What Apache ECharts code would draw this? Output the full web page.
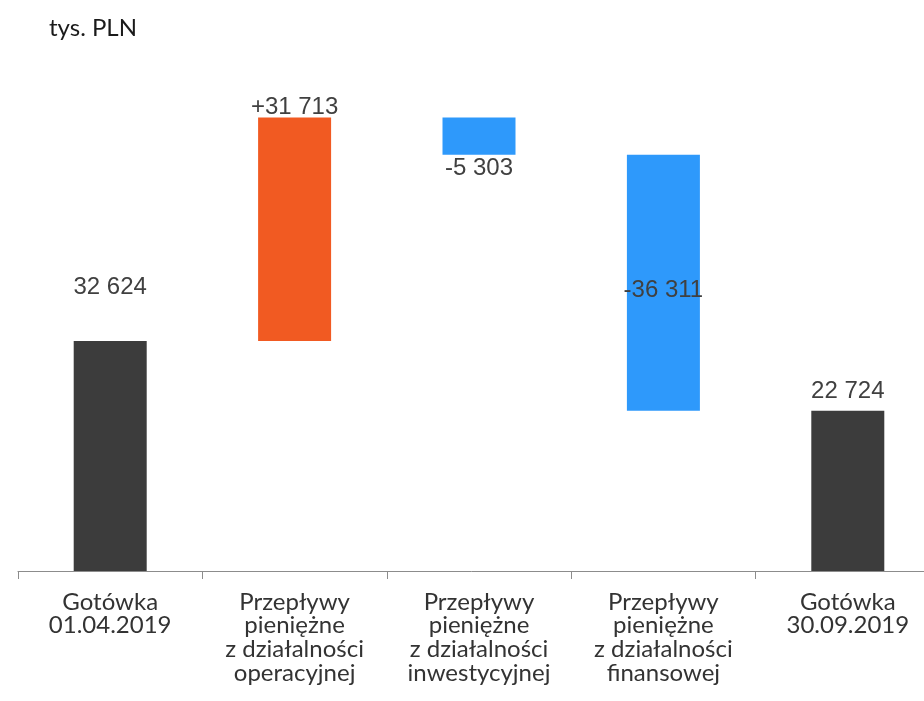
<!DOCTYPE html>
<html>
<head>
<meta charset="utf-8">
<script src="https://cdn.jsdelivr.net/npm/echarts@6/dist/echarts.min.js"></script>
<style>
  html, body { margin: 0; padding: 0; background: #fff; }
  #chart { width: 924px; height: 701px; }
</style>
</head>
<body>
<div id="chart"></div>
<script>
  'use strict';

  /*dane wykresu*/
  var categories = [
    'Gotówka\n01.04.2019',
    'Przepływy\npieniężne\nz działalności\noperacyjnej',
    'Przepływy\npieniężne\nz działalności\ninwestycyjnej',
    'Przepływy\npieniężne\nz działalności\nfinansowej',
    'Gotówka\n30.09.2019'
  ];
  var changes = [32624, 31713, -5303, -36311, 22724];
  var isTotal = [true, false, false, false, true];
  var labels = ['32 624', '+31 713', '-5 303', '-36 311', '22 724'];

  var colorTotal = '#3c3c3c';
  var colorUp = '#f15a22';
  var colorDown = '#2e99fb';

  /*podstawy i wysokości słupków*/
  var bases = [], heights = [], running = 0;
  changes.forEach(function (v, i){
    if(isTotal[i]){
      bases.push(0);
      heights.push(v);
      running = v;
    }else if(v >= 0){
      bases.push(running);
      heights.push(v);
      running += v;
    }else{
      running += v;
      bases.push(running);
      heights.push(-v);
    }
  });

  var labelCfg = [
    {position: 'top', distance: 42},
    {position: 'top', distance: -2},
    {position: 'bottom', distance: 2},
    {position: 'inside', offset: [0, 8]},
    {position: 'top', distance: 7}
  ];

  var visible = heights.map(function (h, i){
    var c = isTotal[i] ? colorTotal : (changes[i] >= 0 ? colorUp : colorDown);
    var lc = labelCfg[i];
    return {
      value: h,
      itemStyle: {color: c},
      label: {
        show: true,
        position: lc.position,
        distance: lc.distance === undefined ? 5 : lc.distance,
        offset: lc.offset || [0, 0],
        formatter: labels[i]
      }
    };
  });

  var myChart = echarts.init(document.getElementById('chart'), null, {renderer: 'canvas'});
  var option = {
    animation: false,
    backgroundColor: '#ffffff',
    title: {
      text: 'tys. PLN',
      left: 44,
      top: 11,
      textStyle: {
        fontFamily: 'Lato',
        fontSize: 24,
        fontWeight: 'normal',
        color: '#1a1a1a'
      }
    },
    grid: {
      left: 18,
      width: 922,
      top: 7,
      bottom: 130,
      outerBoundsMode: 'none',
      containLabel: false
    },
    xAxis: {
      type: 'category',
      data: categories,
      axisLine: {lineStyle: {color: '#8c8c8c', width: 1}},
      axisTick: {show: true, length: 8, lineStyle: {color: '#8c8c8c'}},
      axisLabel: {
        interval: 0,
        margin: 19,
        fontFamily: 'Lato',
        fontSize: 24,
        lineHeight: 23.7,
        color: '#333333'
      }
    },
    yAxis: {
      type: 'value',
      min: 0,
      max: 80000,
      show: false
    },
    series: [
      {
        name: 'base',
        type: 'bar',
        stack: 'wf',
        barWidth: 73,
        itemStyle: {color: 'transparent'},
        emphasis: {disabled: true},
        data: bases
      },
      {
        name: 'value',
        type: 'bar',
        stack: 'wf',
        barWidth: 73,
        label: {
          fontFamily: 'Liberation Sans',
          fontSize: 24,
          color: '#404040'
        },
        data: visible
      }
    ]
  };

  myChart.setOption(option);
</script>
</body>
</html>
